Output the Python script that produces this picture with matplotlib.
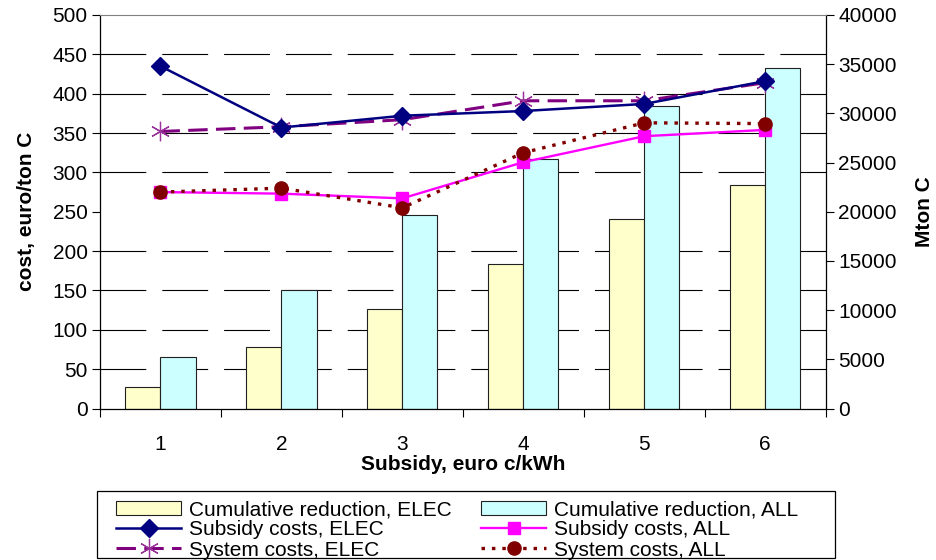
import matplotlib
matplotlib.use("Agg")
import matplotlib.pyplot as plt
import numpy as np
from matplotlib.patches import Rectangle

plt.rcParams['font.family'] = ['Liberation Sans', 'DejaVu Sans']
plt.rcParams['lines.scale_dashes'] = False

categories = ["1", "2", "3", "4", "5", "6"]
cum_red_elec = [2150, 6280, 10080, 14720, 19230, 22690]
cum_red_all = [5270, 12050, 19670, 25330, 30720, 34640]
subsidy_elec = [435, 357, 372, 378, 387, 416]
system_elec = [352, 358, 367, 391, 391, 414]
subsidy_all = [275, 273, 267, 313, 346, 354]
system_all = [275, 280, 255, 325, 363, 362]

left_ticks = [0, 50, 100, 150, 200, 250, 300, 350, 400, 450, 500]
right_ticks = [0, 5000, 10000, 15000, 20000, 25000, 30000, 35000, 40000]

fig = plt.figure(figsize=(9.37, 5.6), dpi=100)
L, R, T, B = 100/937, 825.7/937, 1-15/560, 1-408.5/560
ax = fig.add_axes([L, B, R-L, T-B])
ax2 = ax.twinx()
ax.set_zorder(ax2.get_zorder() + 1)
ax.patch.set_visible(False)

x = np.arange(len(categories))
w = 0.29
ax2.bar(x - w/2, cum_red_elec, w, color='#FFFFCC', edgecolor='#202020', linewidth=0.8,
        label='Cumulative reduction, ELEC', zorder=2)
ax2.bar(x + w/2, cum_red_all, w, color='#CCFFFF', edgecolor='#202020', linewidth=0.8,
        label='Cumulative reduction, ALL', zorder=2)

ax2.set_ylim(0, 40000)
ax.set_ylim(0, 500)
ax.set_xlim(-0.5, 5.5)

# gridlines at left-axis ticks, drawn on bar axis (behind bars)
ratio = 40000 / 500
ax2.set_yticks([t * ratio for t in left_ticks[1:-1]], minor=True)
ax2.yaxis.grid(True, which='minor', color='black', linestyle=(0, (33, 11.5)), linewidth=0.8)
ax2.set_axisbelow(True)
ax2.tick_params(axis='y', which='minor', length=0)

h1, = ax.plot(x, subsidy_elec, color='#000080', linewidth=1.8, marker='D', markersize=9,
              label='Subsidy costs, ELEC')
h3, = ax.plot(x, system_elec, color='#800080', linewidth=2.2, linestyle=(0, (14, 6)),
              marker=(6, 2, 0), markersize=14, markeredgewidth=0.9,
              markeredgecolor='#993399', label='System costs, ELEC')
h2, = ax.plot(x, subsidy_all, color='#FF00FF', linewidth=1.7, marker='s', markersize=9,
              label='Subsidy costs, ALL')
h4, = ax.plot(x, system_all, color='#800000', linewidth=2.4, linestyle=(0, (2.5, 5)),
              marker='o', markersize=9.5, label='System costs, ALL')
h1.set_zorder(4); h3.set_zorder(3); h2.set_zorder(3); h4.set_zorder(4)

ax.set_yticks(left_ticks)
ax2.set_yticks(right_ticks)
ax.set_xticks(x)
ax.set_xticklabels(categories)
ax.set_xticks(np.arange(-0.5, 6, 1), minor=True)
ax.tick_params(axis='x', which='major', length=0, pad=19, labelsize=15)
ax.tick_params(axis='x', which='minor', length=6, direction='out', width=0.8)
ax.tick_params(axis='y', length=6, width=0.8, labelsize=15, pad=3)
ax2.tick_params(axis='y', which='major', length=6, width=0.8, labelsize=15, pad=3)

for s in ['top', 'left', 'bottom', 'right']:
    ax2.spines[s].set_visible(s == 'right')
ax.spines['right'].set_visible(False)
ax.spines['top'].set_color('#808080')
for s in ['left', 'bottom']:
    ax.spines[s].set_color('black')
    ax.spines[s].set_linewidth(0.9)
ax2.spines['right'].set_linewidth(0.9)

ax.set_xlabel('Subsidy, euro c/kWh', fontsize=15, fontweight='bold', labelpad=1)
ax.set_ylabel('cost, euro/ton C', fontsize=15, fontweight='bold', labelpad=12)
ax2.set_ylabel('Mton C', fontsize=15, fontweight='bold', labelpad=13)

bars_h, bars_l = ax2.get_legend_handles_labels()
handles = [bars_h[0], h1, h3, bars_h[1], h2, h4]
labels = [bars_l[0], h1.get_label(), h3.get_label(), bars_l[1], h2.get_label(), h4.get_label()]
leg = fig.legend(handles, labels, ncol=2, loc='upper left',
                 bbox_to_anchor=(106/937, 1-490/560), frameon=False,
                 fontsize=15, handlelength=3.1, handletextpad=0.4,
                 columnspacing=1.4, labelspacing=0.05, borderpad=0.0)
fig.add_artist(Rectangle((97/937, 1-558/560), (835-97)/937, (558-491)/560,
                         transform=fig.transFigure, fill=False, edgecolor='black',
                         linewidth=0.9))

fig.savefig('out.png', dpi=100)
